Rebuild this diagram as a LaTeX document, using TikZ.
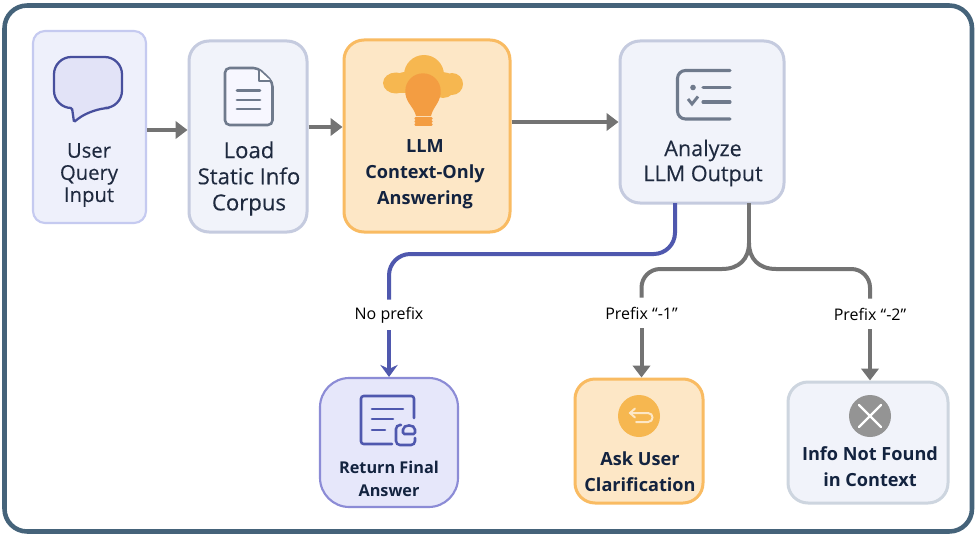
\documentclass[tikz,border=0pt]{standalone}
\usepackage{fontspec}
\setmainfont{Open Sans}
\newfontfamily\mediumfont[FakeBold=0.25]{Open Sans}
\usetikzlibrary{arrows.meta}
\definecolor{frameblue}{HTML}{45637A}
\definecolor{inkdark}{HTML}{1F2A3F}
\definecolor{inkbold}{HTML}{13233F}
\definecolor{linkgray}{HTML}{737373}
\definecolor{linkblue}{HTML}{4F58AE}
\definecolor{orangeline}{HTML}{F9BB62}
\definecolor{orangefill}{HTML}{FDE7C6}
\definecolor{iconorange}{HTML}{F6B750}
\definecolor{bulborange}{HTML}{F39D42}
\definecolor{icongray}{HTML}{6F7A8C}
\definecolor{slateline}{HTML}{C5CBDF}
\definecolor{slatefill}{HTML}{F1F3FA}
\definecolor{userline}{HTML}{C5CAF0}
\definecolor{userfill}{HTML}{EEF0FB}
\definecolor{finalline}{HTML}{8C8CD6}
\definecolor{finalfill}{HTML}{E6E7FA}
\definecolor{greyline}{HTML}{CDD5DF}
\definecolor{bubblefill}{HTML}{E2E3F7}
\begin{document}
\begin{tikzpicture}[x=0.75pt, y=-0.75pt, line cap=round,
    box node/.style={rounded corners=15pt, line width=2.25pt},
    blue box/.style={box node, draw=userline, fill=userfill, line width=1.6pt, rounded corners=9pt},
    slate box/.style={box node, draw=slateline, fill=slatefill},
    orange box/.style={box node, draw=orangeline, fill=orangefill},
    plain text/.style={align=center, text=inkdark, inner sep=0pt},
    bold text/.style={align=center, text=inkbold, inner sep=0pt, font=\bfseries\fontsize{13.6pt}{19.4pt}\selectfont},
    edge label/.style={fill=white, text=black, inner sep=0pt, minimum width=84pt*0.75, minimum height=30pt*0.75, font=\fontsize{12pt}{14pt}\selectfont},
    gray link/.style={draw=linkgray, line width=3pt, line cap=butt},
    blue link/.style={draw=linkblue, line width=3pt, line cap=butt},
    gray tip/.style={-{Triangle[length=9pt,width=13pt]}},
    blue tip/.style={-{Stealth[length=9pt,width=13pt,inset=3pt]}}]

  \useasboundingbox (0,0) rectangle (977,535);
  \draw[frameblue, line width=3.4pt, fill=white, rounded corners=17pt] (4.5,5.5) rectangle (972,531.5);

  % Boxes
  \node[blue box, minimum width=84.75pt, minimum height=144pt] (user) at (89.5,127) {};
  \node[slate box, minimum width=88.5pt, minimum height=143.25pt] (load) at (248,136.5) {};
  \node[orange box, minimum width=124.5pt, minimum height=144pt] (llm) at (427,136) {};
  \node[slate box, minimum width=123pt, minimum height=121.5pt] (analyze) at (702,122) {};
  \node[box node, draw=finalline, fill=finalfill, line width=1.6pt, rounded corners=22pt, minimum width=103.5pt, minimum height=96.75pt] (final) at (389,442.5) {};
  \node[orange box, minimum width=96pt, minimum height=93pt] (ask) at (639,441) {};
  \node[box node, draw=greyline, fill=slatefill, minimum width=120pt, minimum height=90.75pt] (notfound) at (868,442.5) {};

  % Testi
  \node[plain text, font=\mediumfont\fontsize{15.2pt}{16.6pt}\selectfont] (user text) at (89,175) {User\\Query\\Input};
  \node[plain text, font=\mediumfont\fontsize{16.6pt}{19.6pt}\selectfont] (load text) at (249,178.5) {Load\\Static Info\\Corpus};
  \node[bold text] (llm text) at (425,174) {LLM\\Context-Only\\Answering};
  \node[plain text, font=\mediumfont\fontsize{16.2pt}{18.8pt}\selectfont] (analyze text) at (703,163) {Analyze\\LLM Output};
  \node[bold text, font=\bfseries\fontsize{12.2pt}{17.2pt}\selectfont] (final text) at (389,478.5) {Return Final\\Answer};
  \node[bold text] (ask text) at (640,471.5) {Ask User\\Clarification};
  \node[bold text] (notfound text) at (870,467) {Info Not Found\\in Context};

  % Etichette
  \node[edge label] (no prefix) at (389,315) {No prefix};
  \node[edge label] (prefix one) at (641.5,313) {Prefix “-1”};
  \node[edge label] (prefix two) at (870,314) {Prefix “-2”};

  \coordinate (blue start) at (675,203);
  \coordinate (gray start) at (749,203);
  \coordinate (gray fork) at (749,243);

  % Frecce orizzontali
  \draw[gray link, gray tip] (user.east |- 0,130) -- (load.west |- 0,130);
  \draw[gray link, gray tip] (load.east |- 0,127) -- (llm.west |- 0,127);
  \draw[gray link, gray tip] (llm.east |- 0,122) -- (analyze.west |- 0,122);

  % Ramo blu
  \draw[blue link, rounded corners=16pt] (blue start) -- (675,254) -- (389,254) -- (no prefix);
  \draw[blue link, blue tip] (no prefix) -- (final);

  % Rami grigi
  \draw[gray link] (gray start) -- (gray fork);
  \draw[gray link] (gray fork) .. controls (749,259) and (739,269) .. (722,269) [rounded corners=14pt] -- (prefix one |- 0,269) -- (prefix one);
  \draw[gray link] (gray fork) .. controls (749,259) and (759,269) .. (776,269) [rounded corners=14pt] -- (prefix two |- 0,269) -- (prefix two);
  \draw[gray link, gray tip] (prefix one) -- (prefix one |- ask.north);
  \draw[gray link, gray tip] (prefix two) -- (prefix two |- notfound.north);

  % Fumetto
  \draw[draw=linkblue!90!black, fill=bubblefill, line width=1.7pt, rounded corners=13pt]
    (72,108) -- (54,108) -- (54,57) -- (122,57) -- (122,108) -- (92,108)
    [rounded corners=1pt] -- (74,122) -- cycle;

  % Documento
  \draw[icongray, fill=white!97!blue, line width=1.9pt, rounded corners=3.5pt]
    (258,68) -- (225,68) -- (225,125) -- (272.5,125) -- (272.5,82) -- cycle;
  \draw[icongray, fill=white, line width=1.2pt, line join=round] (259,70) -- (259,81) -- (271,81);
  \foreach \y in {90.5,100,109}
    \draw[icongray, line width=2.2pt] (237,\y) -- (260,\y);

  % Nuvola e lampadina
  \fill[iconorange] (396,83) ellipse (13 and 10.5);
  \fill[iconorange] (404,80) circle (8);
  \fill[iconorange] (424,75) circle (20);
  \fill[iconorange] (443,85) circle (13);
  \fill[iconorange] (452,84) circle (11);
  \fill[iconorange] (396,80) rectangle (450,93);
  \fill[bulborange] (423,91) circle (17.7);
  \fill[bulborange] (405.5,93) .. controls (406,103) and (414,107) .. (416,116) -- (431,116) .. controls (433,107) and (440,103) .. (440.5,93) -- cycle;
  \foreach \y in {118.5,121.5,124.5}
    \draw[bulborange, line width=1.8pt] (415.5,\y) -- (431.5,\y);

  % Lista di controllo
  \draw[icongray, line width=2.3pt, rounded corners=6pt] (730,70.5) -- (677.5,70.5) -- (677.5,119) -- (730,119);
  \draw[icongray, line width=2.3pt] (703,87.5) -- (730,87.5);
  \draw[icongray, line width=2.3pt] (703,102) -- (730,102);
  \fill[icongray] (693,87.5) circle (2.8);
  \draw[icongray, line width=2.2pt, line cap=butt] (688,99) -- (692,104) -- (698,96.5);

  % Risposta finale
  \draw[linkblue, line width=1.9pt, rounded corners=2pt] (414,418) -- (414,396) -- (361,396) -- (361,444) -- (392,444);
  \draw[linkblue, line width=1.9pt] (372,409) -- (403,409);
  \draw[linkblue, line width=1.9pt] (372,419) -- (393,419);
  \draw[linkblue, line width=1.9pt] (372,430) -- (385,430);
  \draw[linkblue, line width=1.9pt, rounded corners=3pt] (401,425) -- (396,425) -- (396,445) -- (415,445) -- (415,438);
  \draw[linkblue, line width=1.9pt, rounded corners=1pt] (403,434) -- (403,431) .. controls (403,424) and (415,424) .. (415,431) -- (415,434) -- cycle;

  % Chiarimento
  \fill[iconorange] (639,416) circle (21);
  \draw[orangefill, line width=1.5pt] (630,413) -- (648,413) .. controls (654,413) and (654,422) .. (648,422) -- (636,422);
  \draw[orangefill, line width=1.5pt] (635,408.5) -- (630,413) -- (635,417.5);

  % Non trovato
  \fill[black!42] (870,416) circle (21);
  \draw[white, line width=1.8pt] (859,405) -- (881,427);
  \draw[white, line width=1.8pt] (881,405) -- (859,427);
\end{tikzpicture}
\end{document}
